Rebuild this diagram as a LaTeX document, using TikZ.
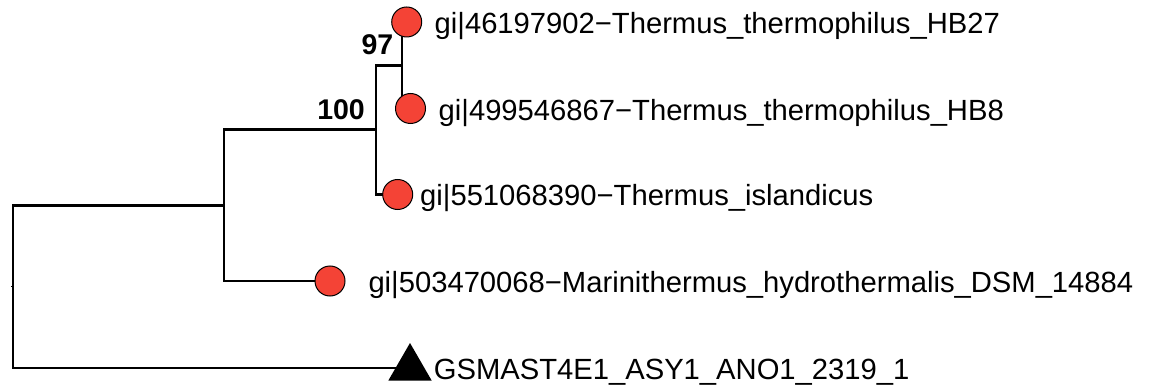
\documentclass[tikz,border=0pt]{standalone}
\usepackage{fontspec}
\setmainfont{Liberation Sans}
\usetikzlibrary{shapes.geometric,backgrounds}
\definecolor{tipred}{RGB}{244,67,54}
\tikzset{
  branch/.style={line width=2.8pt, line join=miter},
  leafdot/.style={circle, fill=tipred, draw=black, line width=1pt, minimum size=30pt, inner sep=0pt},
  leaftri/.style={regular polygon, regular polygon sides=3, fill=black, draw=none, minimum size=50pt, inner sep=0pt},
  tiplabel/.style={anchor=base west, inner sep=0pt, font=\fontsize{29.2}{34}\selectfont},
  bootlabel/.style={anchor=base east, inner sep=0pt, font=\fontsize{28.5}{33}\selectfont\bfseries}
}
\begin{document}
\begin{tikzpicture}[x=1pt,y=-1pt]
\useasboundingbox (0,0) rectangle (1150,387);
% internal nodes
\coordinate (root) at (13,286.7);
\coordinate (nA) at (224,205.3);
\coordinate (nB) at (376,129.6);
\coordinate (nC) at (402,65.3);
% tips
\node[leafdot] (l1) at (406.7,22) {};
\node[leafdot] (l2) at (410.5,108.5) {};
\node[leafdot] (l3) at (397.7,194.5) {};
\node[leafdot] (l4) at (330,281) {};
\node[leaftri] (l5) at (410,368) {};
% branches
\begin{pgfonlayer}{background}
\draw[branch] (nA) -| (root) |- (l5.center);
\draw[branch] (nB) -| (nA) |- (l4.center);
\draw[branch] (nC) -| (nB) |- (l3.center);
\draw[branch] (l1.center) -| (nC) |- (l2.center);
\draw[line width=1.5pt] (root) -- ++(-2.5,0);
\end{pgfonlayer}
% tip labels
\node[tiplabel] (t1) at (434.5,33.5) {gi|46197902−Thermus\_thermophilus\_HB27};
\node[tiplabel] (t2) at (438.5,120.2) {gi|499546867−Thermus\_thermophilus\_HB8};
\node[tiplabel] (t3) at (420,205.7) {gi|551068390−Thermus\_islandicus};
\node[tiplabel] (t4) at (368.3,292.7) {gi|503470068−Marinithermus\_hydrothermalis\_DSM\_14884};
\node[tiplabel] (t5) at (433.6,379.7) {GSMAST4E1\_ASY1\_ANO1\_2319\_1};
% bootstrap labels
\node[bootlabel] (b97) at (393.5,55) {97};
\node[bootlabel] (b100) at (365,119.3) {100};
\end{tikzpicture}
\end{document}
